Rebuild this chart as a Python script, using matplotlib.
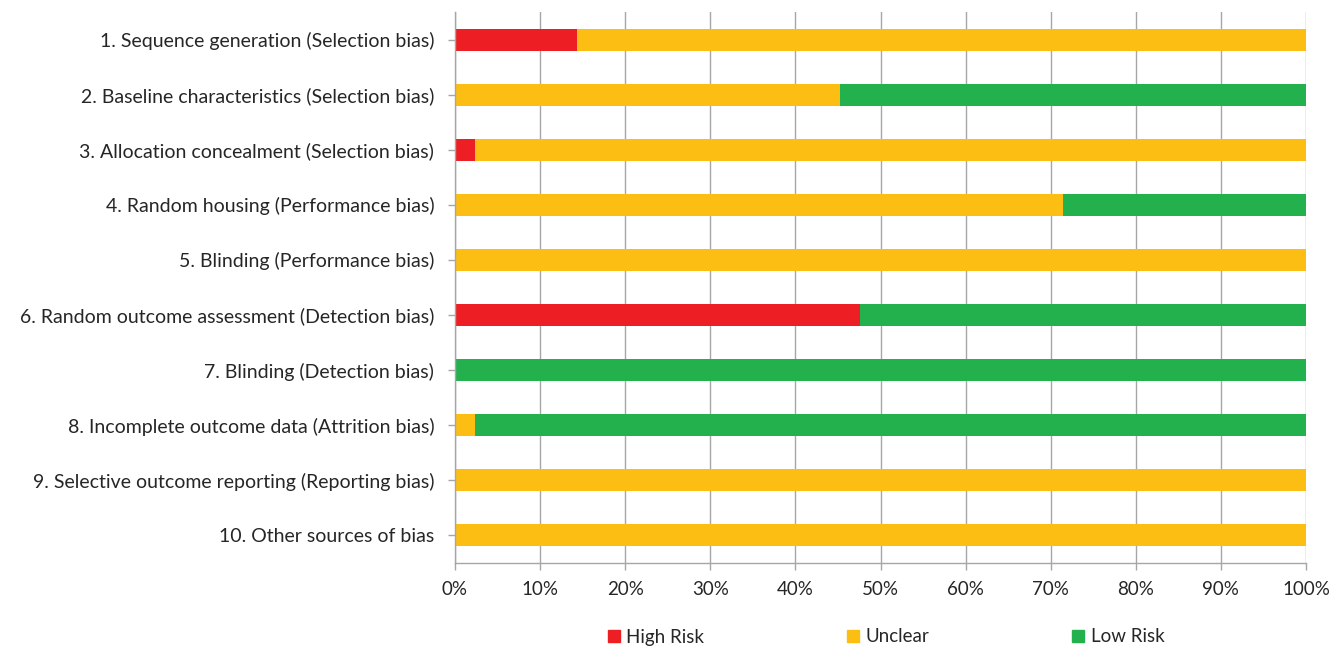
import numpy as np
import matplotlib.pyplot as plt
from matplotlib.patches import Patch

# domini di bias (dall'alto verso il basso)
domains = [
    "1. Sequence generation (Selection bias)",
    "2. Baseline characteristics (Selection bias)",
    "3. Allocation concealment (Selection bias)",
    "4. Random housing (Performance bias)",
    "5. Blinding (Performance bias)",
    "6. Random outcome assessment (Detection bias)",
    "7. Blinding (Detection bias)",
    "8. Incomplete outcome data (Attrition bias)",
    "9. Selective outcome reporting (Reporting bias)",
    "10. Other sources of bias",
]

# percentuali [%]
high_risk = [14.3, 0.0, 2.4, 0.0, 0.0, 47.6, 0.0, 0.0, 0.0, 0.0]
unclear = [85.7, 45.2, 97.6, 71.4, 100.0, 0.0, 0.0, 2.4, 100.0, 100.0]
low_risk = [0.0, 54.8, 0.0, 28.6, 0.0, 52.4, 100.0, 97.6, 0.0, 0.0]

ticks = [0, 10, 20, 30, 40, 50, 60, 70, 80, 90, 100]

c_high = "#ED1F24"
c_unc = "#FDBE14"
c_low = "#23B14D"
c_grid = "#A6A6A6"

plt.rcParams['font.family'] = ['Lato', 'DejaVu Sans']

fig = plt.figure(figsize=(13.31, 6.47), dpi=100)
ax = fig.add_axes([455/1331, 1 - 563/647, (1306 - 455)/1331, (563 - 12)/647])

y = np.arange(len(domains))
h = np.array(high_risk)
u = np.array(unclear)
l = np.array(low_risk)

ax.barh(y, h, height=0.4, color=c_high, label="High Risk", zorder=3)
ax.barh(y, u, left=h, height=0.4, color=c_unc, label="Unclear", zorder=3)
ax.barh(y, l, left=h + u, height=0.4, color=c_low, label="Low Risk", zorder=3)

ax.set_xlim(0, 100)
ax.set_ylim(len(domains) - 0.5, -0.5)
ax.set_yticks(y)
ax.set_yticklabels(domains)
ax.set_xticks(ticks)
ax.set_xticklabels([f"{t}%" for t in ticks])

ax.grid(axis='x', color=c_grid, linewidth=1.0, zorder=0)
for s in ['top', 'right']:
    ax.spines[s].set_visible(False)
for s in ['left', 'bottom']:
    ax.spines[s].set_color(c_grid)
    ax.spines[s].set_linewidth(1.0)
    ax.spines[s].set_zorder(4)

ax.tick_params(axis='y', length=5, width=1, color=c_grid, pad=10,
               labelsize=14, labelcolor='#262626')
ax.tick_params(axis='x', length=5, width=1, color=c_grid, pad=8,
               labelsize=13.5, labelcolor='#262626')

handles = [Patch(color=c_high, label="High Risk"),
           Patch(color=c_unc, label="Unclear"),
           Patch(color=c_low, label="Low Risk")]
fig.legend(handles=handles, loc='center', ncol=3, frameon=False,
           bbox_to_anchor=(886/1331, 1 - 637/647), fontsize=13.5,
           handlelength=0.65, handleheight=0.65, handletextpad=0.35,
           columnspacing=7.6, labelcolor='#262626')

fig.savefig("out.png", dpi=100)
